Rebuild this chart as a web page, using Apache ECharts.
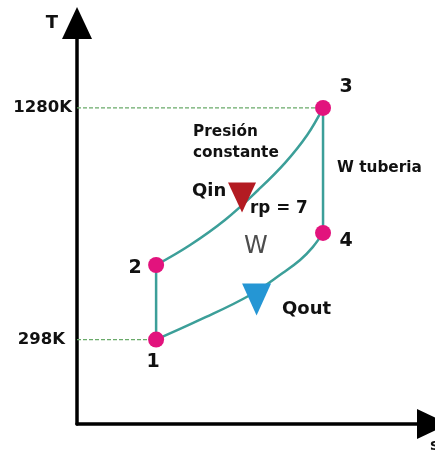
<!DOCTYPE html>
<html>
<head>
<meta charset="utf-8">
<script src="https://cdn.jsdelivr.net/npm/echarts@6/dist/echarts.min.js"></script>
<style>
  html, body { margin: 0; padding: 0; background: #ffffff; }
  #chart { width: 435px; height: 450px; }
</style>
</head>
<body>
<div id="chart"></div>
<script>
// Brayton cycle on a T-s diagram (entropy in arbitrary units, temperature in K)
const stateNames = ['1', '2', '3', '4'];
const stateS = [1.00, 1.00, 3.11, 3.11];
const stateT = [298, 614, 1280, 750];

// Temperature references shown on the T axis
const refTemps = [298, 1280];

// Constant-pressure heat addition 2 -> 3
const heatInS = [1.00, 1.43, 1.87, 2.29, 2.63, 2.91, 3.11];
const heatInT = [614, 699, 805, 932, 1047, 1165, 1280];

// Constant-pressure heat rejection 4 -> 1 (listed from 1 to 4)
const heatOutS = [1.00, 1.55, 2.19, 2.60, 2.82, 2.98, 3.11];
const heatOutT = [298, 381, 487, 580, 635, 690, 750];

// Heat-flow markers sitting on the two isobars
const qInPoint = [2.086, 900];
const qOutPoint = [2.27, 468];

const FONT = 'DejaVu Sans';
const TEAL = '#3c9f99';
const MAGENTA = '#e2137d';
const INK = '#111111';

const zip = (xs, ys) => xs.map((x, i) => [x, ys[i]]);

// label offsets for the state numbers (pixels from the marker centre)
const stateLabelOffsets = [[-3, 23], [-21, 3], [23, -21], [23, 8]];

const chart = echarts.init(document.getElementById('chart'), null, { renderer: 'canvas' });

const axisLineStyle = { color: '#000000', width: 3.5 };

const option = {
  animation: false,
  backgroundColor: '#ffffff',
  grid: { left: 77, top: 23, right: 2, bottom: 26, containLabel: false, outerBoundsMode: 'none' },
  xAxis: {
    type: 'value',
    min: 0,
    max: 4.5,
    name: 's',
    nameLocation: 'end',
    nameGap: -3,
    nameTextStyle: {
      fontFamily: FONT, fontWeight: 'bold', fontSize: 16, color: INK,
      align: 'left', verticalAlign: 'top', padding: [14, 0, 0, 0]
    },
    axisLine: {
      show: true, onZero: false,
      symbol: ['none', 'triangle'], symbolSize: [30, 32],
      lineStyle: axisLineStyle
    },
    axisTick: { show: false },
    axisLabel: { show: false },
    splitLine: { show: false }
  },
  yAxis: {
    type: 'value',
    min: -60,
    max: 1640,
    name: 'T',
    nameLocation: 'end',
    nameGap: 0,
    nameTextStyle: {
      fontFamily: FONT, fontWeight: 'bold', fontSize: 18, color: INK,
      align: 'right', verticalAlign: 'middle', padding: [0, 19, 0, 0]
    },
    axisLine: {
      show: true, onZero: false,
      symbol: ['none', 'triangle'], symbolSize: [30, 32],
      lineStyle: axisLineStyle
    },
    axisTick: { show: false },
    splitLine: { show: false },
    axisLabel: {
      show: true,
      customValues: refTemps,
      margin: 5,
      fontFamily: FONT,
      fontWeight: 'bold',
      fontSize: 16.5,
      color: INK,
      formatter: (v) => (v < 1000 ? '{lo|' + v + 'K}' : v + 'K'),
      rich: {
        lo: { fontFamily: FONT, fontWeight: 'bold', fontSize: 16.5, color: INK, padding: [0, 7, 0, 0] }
      }
    }
  },
  series: [
    // dashed guides from the T axis to the states at the reference temperatures
    {
      type: 'line', silent: true, symbol: 'none', z: 1,
      lineStyle: { color: '#6aaa6a', width: 1.2, type: [4, 2] },
      data: [[0, refTemps[1]], [stateS[2], refTemps[1]]]
    },
    {
      type: 'line', silent: true, symbol: 'none', z: 1,
      lineStyle: { color: '#6aaa6a', width: 1.2, type: [4, 2] },
      data: [[0, refTemps[0]], [stateS[0], refTemps[0]]]
    },
    // compression 1 -> 2
    {
      type: 'line', silent: true, symbol: 'none', z: 2,
      lineStyle: { color: TEAL, width: 2.5 },
      data: [[stateS[0], stateT[0]], [stateS[1], stateT[1]]]
    },
    // heat addition 2 -> 3
    {
      type: 'line', silent: true, symbol: 'none', z: 2, smooth: 0.4,
      lineStyle: { color: TEAL, width: 2.5 },
      data: zip(heatInS, heatInT)
    },
    // expansion 3 -> 4
    {
      type: 'line', silent: true, symbol: 'none', z: 2,
      lineStyle: { color: TEAL, width: 2.5 },
      data: [[stateS[2], stateT[2]], [stateS[3], stateT[3]]]
    },
    // heat rejection 4 -> 1
    {
      type: 'line', silent: true, symbol: 'none', z: 2, smooth: 0.4,
      lineStyle: { color: TEAL, width: 2.5 },
      data: zip(heatOutS, heatOutT)
    },
    // heat-flow arrows
    {
      type: 'scatter', silent: true, z: 4,
      symbol: 'triangle', symbolRotate: 180, symbolSize: [28, 30],
      itemStyle: { color: '#b31b22', opacity: 1 },
      data: [qInPoint]
    },
    {
      type: 'scatter', silent: true, z: 4,
      symbol: 'triangle', symbolRotate: 180, symbolSize: [29, 32],
      itemStyle: { color: '#2596d4', opacity: 1 },
      data: [qOutPoint]
    },
    // cycle states
    {
      type: 'scatter', silent: true, z: 5,
      symbol: 'circle', symbolSize: 16,
      itemStyle: { color: MAGENTA, opacity: 1 },
      data: stateNames.map((name, i) => ({
        name: name,
        value: [stateS[i], stateT[i]],
        label: {
          show: true,
          formatter: name,
          position: 'inside',
          offset: stateLabelOffsets[i],
          align: 'center',
          verticalAlign: 'middle',
          fontFamily: FONT,
          fontWeight: 'bold',
          fontSize: 19,
          color: INK,
          opacity: 1
        }
      }))
    }
  ],
  graphic: [
    {
      type: 'text', left: 193, top: 122, silent: true,
      style: {
        text: 'Presión\nconstante', fontFamily: FONT, fontWeight: 'bold',
        fontSize: 15.3, lineHeight: 21, fill: INK
      }
    },
    {
      type: 'text', left: 192, top: 182, silent: true,
      style: { text: 'Qin', fontFamily: FONT, fontWeight: 'bold', fontSize: 18, fill: INK }
    },
    {
      type: 'text', left: 250, top: 200, silent: true,
      style: { text: 'rp = 7', fontFamily: FONT, fontWeight: 'bold', fontSize: 16.8, fill: INK }
    },
    {
      type: 'text', left: 337, top: 161, silent: true,
      style: { text: 'W tuberia', fontFamily: FONT, fontWeight: 'bold', fontSize: 15.3, fill: INK }
    },
    {
      type: 'text', left: 244, top: 235, silent: true,
      style: { text: 'W', fontFamily: FONT, fontWeight: 'normal', fontSize: 24, fill: '#4d4d4d' }
    },
    {
      type: 'text', left: 282, top: 300, silent: true,
      style: { text: 'Qout', fontFamily: FONT, fontWeight: 'bold', fontSize: 18, fill: INK }
    }
  ]
};

chart.setOption(option);
</script>
</body>
</html>
